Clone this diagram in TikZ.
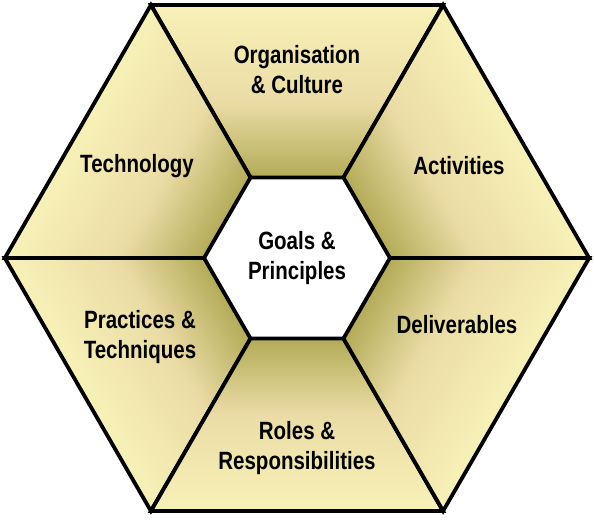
\documentclass[tikz,border=0pt]{standalone}
\usepackage{fontspec}
\setmainfont{Liberation Sans}[FakeStretch=0.82]
\definecolor{petallight}{HTML}{F7F1B8}
\definecolor{petalmid}{HTML}{EBDCA6}
\definecolor{petaldark}{HTML}{B3AB58}
\pgfdeclareverticalshading{petal}{100bp}{color(0bp)=(petaldark); color(25bp)=(petaldark); color(47bp)=(petalmid); color(75bp)=(petallight); color(100bp)=(petallight)}

\begin{document}
\begin{tikzpicture}[x=1pt,y=-1pt,line width=3.8pt,line join=miter,
    lbl/.style={font=\bfseries\fontsize{25}{30}\selectfont,align=center}]
  \useasboundingbox (0,0) rectangle (594,528);
  \coordinate (c) at (297,258);
  % six shaded pieces round the centre
  \foreach \a in {0,60,...,300}
    \draw[shading=petal,transform canvas={rotate around={\a:(c)}}]
      (151,5) -- (443,5) -- (343.5,177.5) -- (250.5,177.5) -- cycle;
  \node[lbl] (org) at (297,70) {Organisation\\\& Culture};
  \node[lbl] (tech) at (137,166) {Technology};
  \node[lbl] (act) at (459,166) {Activities};
  \node[lbl] (goals) at (297,258) {Goals \&\\Principles};
  \node[lbl] (prac) at (140,337) {Practices \&\\Techniques};
  \node[lbl] (deliv) at (457,325) {Deliverables};
  \node[lbl] (roles) at (297,448) {Roles \&\\Responsibilities};
\end{tikzpicture}
\end{document}
